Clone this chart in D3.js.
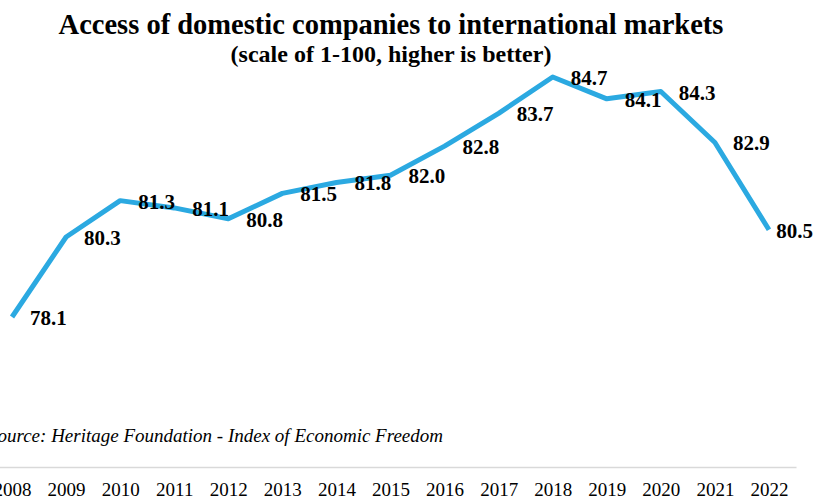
<!DOCTYPE html>
<html>
<head>
<meta charset="utf-8">
<script src="https://cdn.jsdelivr.net/npm/d3@7"></script>
<style>
  body { margin: 0; background: #fff; }
  text { font-family: "Liberation Serif", "Times New Roman", serif; }
</style>
</head>
<body>
<svg id="chart"></svg>
<script>
// data ----------------------------------------
var years = ["2008", "2009", "2010", "2011", "2012", "2013", "2014", "2015",
             "2016", "2017", "2018", "2019", "2020", "2021", "2022"];
var values = [78.1, 80.3, 81.3, 81.1, 80.8, 81.5, 81.8, 82.0,
              82.8, 83.7, 84.7, 84.1, 84.3, 82.9, 80.5];

var width = 815;
var height = 502;

var svg = d3.select("#chart")
  .attr("width", width)
  .attr("height", height);

// scales ----------------------------------------
// plot area runs a little past the left edge, like the cropped original
var x = d3.scalePoint()
  .domain(years)
  .range([-15, 796])
  .padding(0.5);

var y = d3.scaleLinear()
  .domain(d3.extent(values))
  .range([317, 77]);

// titles ----------------------------------------
svg.append("text")
  .attr("x", 391)
  .attr("y", 34)
  .attr("text-anchor", "middle")
  .style("font-weight", "bold")
  .style("font-size", "28.5px")
  .text("Access of domestic companies to international markets");

svg.append("text")
  .attr("x", 391)
  .attr("y", 62)
  .attr("text-anchor", "middle")
  .style("font-weight", "bold")
  .style("font-size", "24px")
  .text("(scale of 1-100, higher is better)");

// line ----------------------------------------
var line = d3.line()
  .x(function(d, i) { return x(years[i]); })
  .y(function(d) { return y(d); });

svg.append("path")
  .datum(values)
  .attr("fill", "none")
  .attr("stroke", "#2BA9E1")
  .attr("stroke-width", 5)
  .attr("stroke-linejoin", "round")
  .attr("d", line);

// data labels ----------------------------------------
svg.append("g")
  .selectAll("text")
  .data(values)
  .enter().append("text")
  .attr("x", function(d, i) { return x(years[i]) + 18; })
  .attr("y", function(d) { return y(d) + 8; })
  .style("font-weight", "bold")
  .style("font-size", "21px")
  .text(function(d) { return d.toFixed(1); })
  .each(function() {
    // keep the last label inside the frame
    var w = this.getComputedTextLength();
    var lx = +this.getAttribute("x");
    if (lx + w > width - 2) this.setAttribute("x", width - 2 - w);
  });

// source ----------------------------------------
svg.append("text")
  .attr("x", -12)
  .attr("y", 442)
  .style("font-style", "italic")
  .style("font-size", "19px")
  .text("Source: Heritage Foundation - Index of Economic Freedom");

// x axis ----------------------------------------
var xAxis = svg.append("g")
  .attr("transform", "translate(0,467)")
  .call(d3.axisBottom(x).tickSize(0).tickPadding(16));

xAxis.select(".domain")
  .attr("stroke", "#d9d9d9")
  .attr("stroke-width", 1.5);

xAxis.selectAll("text")
  .style("font-family", "\"Liberation Serif\", serif")
  .style("font-size", "19px")
  .attr("fill", "#000");
</script>
</body>
</html>
